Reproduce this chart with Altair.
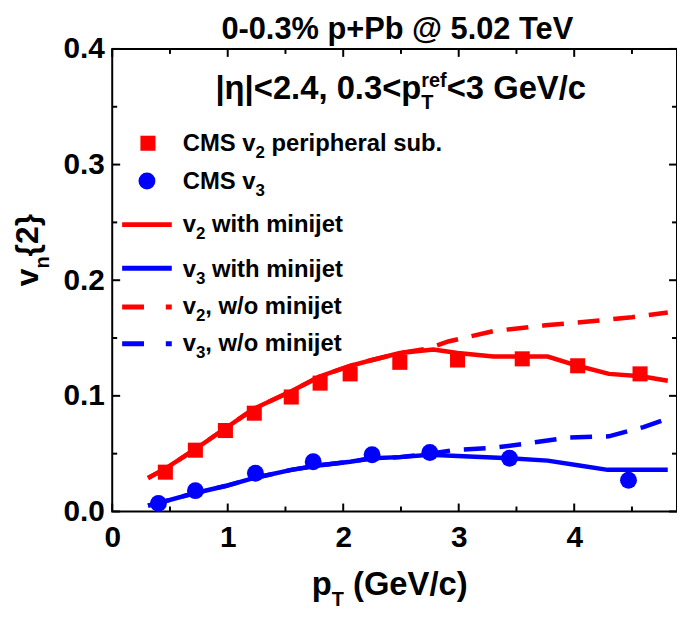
import altair as alt
import pandas as pd

# ---------------- data ----------------
cms_v2_pt = [0.46, 0.72, 0.98, 1.23, 1.55, 1.80, 2.06, 2.49, 2.99, 3.55, 4.03, 4.57]
cms_v2 = [0.034, 0.053, 0.070, 0.085, 0.099, 0.111, 0.119, 0.129, 0.131, 0.132, 0.126, 0.119]

cms_v3_pt = [0.40, 0.72, 1.24, 1.74, 2.25, 2.75, 3.44, 4.47]
cms_v3 = [0.007, 0.018, 0.033, 0.043, 0.049, 0.051, 0.046, 0.027]

v2_mj_pt = [0.31, 0.46, 0.72, 0.98, 1.23, 1.55, 1.80, 2.06, 2.25, 2.49, 2.78, 2.99,
            3.30, 3.55, 3.77, 4.03, 4.30, 4.58, 4.81]
v2_mj = [0.029, 0.037, 0.054, 0.072, 0.089, 0.104, 0.117, 0.126, 0.131, 0.137, 0.140, 0.137,
         0.134, 0.134, 0.134, 0.126, 0.119, 0.117, 0.113]

v2_nomj_pt = [0.31, 0.46, 0.72, 0.98, 1.23, 1.55, 1.80, 2.06, 2.25, 2.49, 2.74, 2.91,
              3.30, 3.75, 4.10, 4.50, 4.81]
v2_nomj = [0.029, 0.037, 0.054, 0.072, 0.089, 0.104, 0.117, 0.126, 0.131, 0.137, 0.141, 0.147,
           0.156, 0.161, 0.164, 0.168, 0.172]

v3_mj_pt = [0.31, 0.46, 0.72, 0.98, 1.23, 1.55, 1.80, 2.06, 2.25, 2.49, 2.75, 2.99,
            3.44, 3.77, 4.03, 4.29, 4.81]
v3_mj = [0.005, 0.009, 0.016, 0.022, 0.029, 0.036, 0.040, 0.043, 0.046, 0.047, 0.049, 0.048,
         0.046, 0.044, 0.040, 0.036, 0.036]

v3_nomj_pt = [0.31, 0.46, 0.72, 0.98, 1.23, 1.55, 1.80, 2.06, 2.25, 2.49, 2.75, 2.95,
              3.30, 3.60, 3.95, 4.30, 4.60, 4.77]
v3_nomj = [0.005, 0.009, 0.016, 0.022, 0.029, 0.036, 0.040, 0.043, 0.046, 0.047, 0.050, 0.053,
           0.055, 0.059, 0.064, 0.065, 0.073, 0.079]

x_major = [0, 1, 2, 3, 4]
x_minor = [0.5, 1.5, 2.5, 3.5, 4.5]
y_major = [0.0, 0.1, 0.2, 0.3, 0.4]
y_minor = [0.05, 0.15, 0.25, 0.35]

title_text = "0-0.3% p+Pb @ 5.02 TeV"
legend_labels = [
    [("CMS v", "n"), ("2", "sub"), (" peripheral sub.", "n")],
    [("CMS v", "n"), ("3", "sub")],
    [("v", "n"), ("2", "sub"), (" with minijet", "n")],
    [("v", "n"), ("3", "sub"), (" with minijet", "n")],
    [("v", "n"), ("2", "sub"), (", w/o minijet", "n")],
    [("v", "n"), ("3", "sub"), (", w/o minijet", "n")],
]

# ---------------- layout ----------------
FONT = "Liberation Sans"
RED = "#ff0000"
BLUE = "#0000ff"
W, H = 569, 466
OX, OY = 113, 47          # page position of the plot origin
PAD = {"left": OX - 8, "top": OY - 8, "right": 0, "bottom": 96}

xs = alt.Scale(domain=[0, 4.89], nice=False, zero=False)
ys = alt.Scale(domain=[0, 0.4], nice=False, zero=False)

lab = dict(labelFont=FONT, labelFontWeight="bold", labelFontSize=30, labelColor="black",
           ticks=False, tickSize=0, domain=False, grid=False, title=None,
           labelFlush=False, labelOverlap=False)
xaxis = alt.Axis(values=x_major, format="d", labelPadding=11, **lab)
yaxis = alt.Axis(values=y_major, format=".1f", labelPadding=8, **lab)

X = alt.X("x:Q", scale=xs, axis=xaxis)
Y = alt.Y("y:Q", scale=ys, axis=yaxis)


def df(xv, yv):
    return pd.DataFrame({"x": xv, "y": yv})


layers = []

# model curves
layers.append(alt.Chart(df(v2_nomj_pt, v2_nomj)).mark_line(color=RED, strokeWidth=4.5, strokeDash=[22, 14]).encode(x=X, y=Y))
layers.append(alt.Chart(df(v3_nomj_pt, v3_nomj)).mark_line(color=BLUE, strokeWidth=4.5, strokeDash=[22, 14]).encode(x=X, y=Y))
layers.append(alt.Chart(df(v2_mj_pt, v2_mj)).mark_line(color=RED, strokeWidth=4.5).encode(x=X, y=Y))
layers.append(alt.Chart(df(v3_mj_pt, v3_mj)).mark_line(color=BLUE, strokeWidth=4.5).encode(x=X, y=Y))

# data points
layers.append(alt.Chart(df(cms_v2_pt, cms_v2)).mark_point(shape="square", filled=True, opacity=1, size=230, color=RED).encode(x=X, y=Y))
layers.append(alt.Chart(df(cms_v3_pt, cms_v3)).mark_point(shape="circle", filled=True, opacity=1, size=290, color=BLUE).encode(x=X, y=Y))

# inward ticks on all four sides
MAJ, MIN = 8, 5
for vals, ln in ((x_major, MAJ), (x_minor, MIN)):
    d = pd.DataFrame({"x": vals})
    layers.append(alt.Chart(d).mark_rule(color="black", strokeWidth=2).encode(x=X, y=alt.value(H), y2=alt.value(H - ln)))
    layers.append(alt.Chart(d).mark_rule(color="black", strokeWidth=2).encode(x=X, y=alt.value(0), y2=alt.value(ln)))
for vals, ln in ((y_major, MAJ), (y_minor, MIN)):
    d = pd.DataFrame({"y": vals})
    layers.append(alt.Chart(d).mark_rule(color="black", strokeWidth=2).encode(y=Y, x=alt.value(0), x2=alt.value(ln)))
    layers.append(alt.Chart(d).mark_rule(color="black", strokeWidth=2).encode(y=Y, x=alt.value(W), x2=alt.value(W - ln)))

# ---------------- rich text helper (Arial/Liberation Bold advance widths) ----------------
AW = {" ": 278, "!": 333, "%": 889, "(": 333, ")": 333, "+": 584, ",": 278, "-": 333, ".": 278,
      "/": 278, "<": 584, ">": 584, "@": 975, "{": 389, "}": 389, "|": 280, "η": 611,
      "C": 722, "G": 778, "M": 833, "P": 667, "S": 667, "T": 611, "V": 667,
      "a": 556, "b": 611, "c": 556, "e": 556, "f": 333, "h": 611, "i": 278, "j": 278,
      "l": 278, "m": 889, "n": 611, "o": 611, "p": 611, "r": 389, "s": 556, "t": 333,
      "u": 611, "v": 556, "w": 778}


def tw(s, size):
    return sum(AW.get(c, 556) for c in s) * size / 1000.0


def rich(pieces, px, py, size, ssize, sub_dy, sup_dy, angle=0):
    """px, py: page position of the baseline start."""
    out = []
    cx = 0.0
    for text, mode in pieces:
        items = []
        if mode == "n":
            items.append((text, 0.0, size))
            adv = tw(text, size)
        elif mode == "sub":
            items.append((text, sub_dy, ssize))
            adv = tw(text, ssize)
        elif mode == "sup":
            items.append((text, -sup_dy, ssize))
            adv = tw(text, ssize)
        else:  # subsup
            items.append((text[0], sub_dy, ssize))
            items.append((text[1], -sup_dy, ssize))
            adv = max(tw(text[0], ssize), tw(text[1], ssize))
        for t, dy, sz in items:
            lead = len(t) - len(t.lstrip(" "))
            shift = tw(" " * lead, sz)
            t = t.strip(" ")
            if angle == 0:
                x, y = px + cx + shift, py + dy
            else:  # 270: reading upward, "down" is +x
                x, y = px + dy, py - cx - shift
            out.append(
                alt.Chart().mark_text(font=FONT, fontWeight="bold", fontSize=sz, color="black",
                                      align="left", baseline="alphabetic", angle=angle)
                .encode(x=alt.value(x - OX), y=alt.value(y - OY), text=alt.value(t))
            )
        cx += adv
    return out


# title, annotation, axis titles
layers += rich([(title_text, "n")], 223, 37, 31, 20, 10, 12)
layers += rich([("|η|<2.4, 0.3<p", "n"), (("T", "ref"), "subsup"), ("<3 GeV/c", "n")], 217, 97, 33, 20, 11, 12)
layers += rich([("p", "n"), ("T", "sub"), (" (GeV/c)", "n")], 314, 597, 33, 20, 11, 12)
layers += rich([("v", "n"), ("n", "sub"), ("{2}", "n")], 38, 286, 32, 20, 11, 12, angle=270)

# legend
layers.append(alt.Chart().mark_point(shape="square", filled=True, opacity=1, size=230, color=RED)
              .encode(x=alt.value(149 - OX), y=alt.value(142 - OY)))
layers.append(alt.Chart().mark_point(shape="circle", filled=True, opacity=1, size=290, color=BLUE)
              .encode(x=alt.value(148 - OX), y=alt.value(180 - OY)))
for yy, col, dash in ((224, RED, None), (268, BLUE, None), (307, RED, [22, 22, 6, 60]), (344, BLUE, [22, 22, 6, 60])):
    kw = dict(color=col, strokeWidth=5)
    if dash:
        kw["strokeDash"] = dash
    layers.append(alt.Chart().mark_rule(**kw).encode(
        x=alt.value(123 - OX), x2=alt.value(173 - OX), y=alt.value(yy - OY)))

for pieces, base in zip(legend_labels, [150, 188, 231, 277, 314, 351]):
    layers += rich(pieces, 184, base, 24, 17, 7, 9)

chart = (
    alt.layer(*layers)
    .properties(width=W, height=H, padding=PAD, autosize=alt.AutoSizeParams(type="none"),
                background="white")
    .configure_view(stroke="black", strokeWidth=2)
)

chart.save("out.html", embed_options={"renderer": "svg", "actions": False})
